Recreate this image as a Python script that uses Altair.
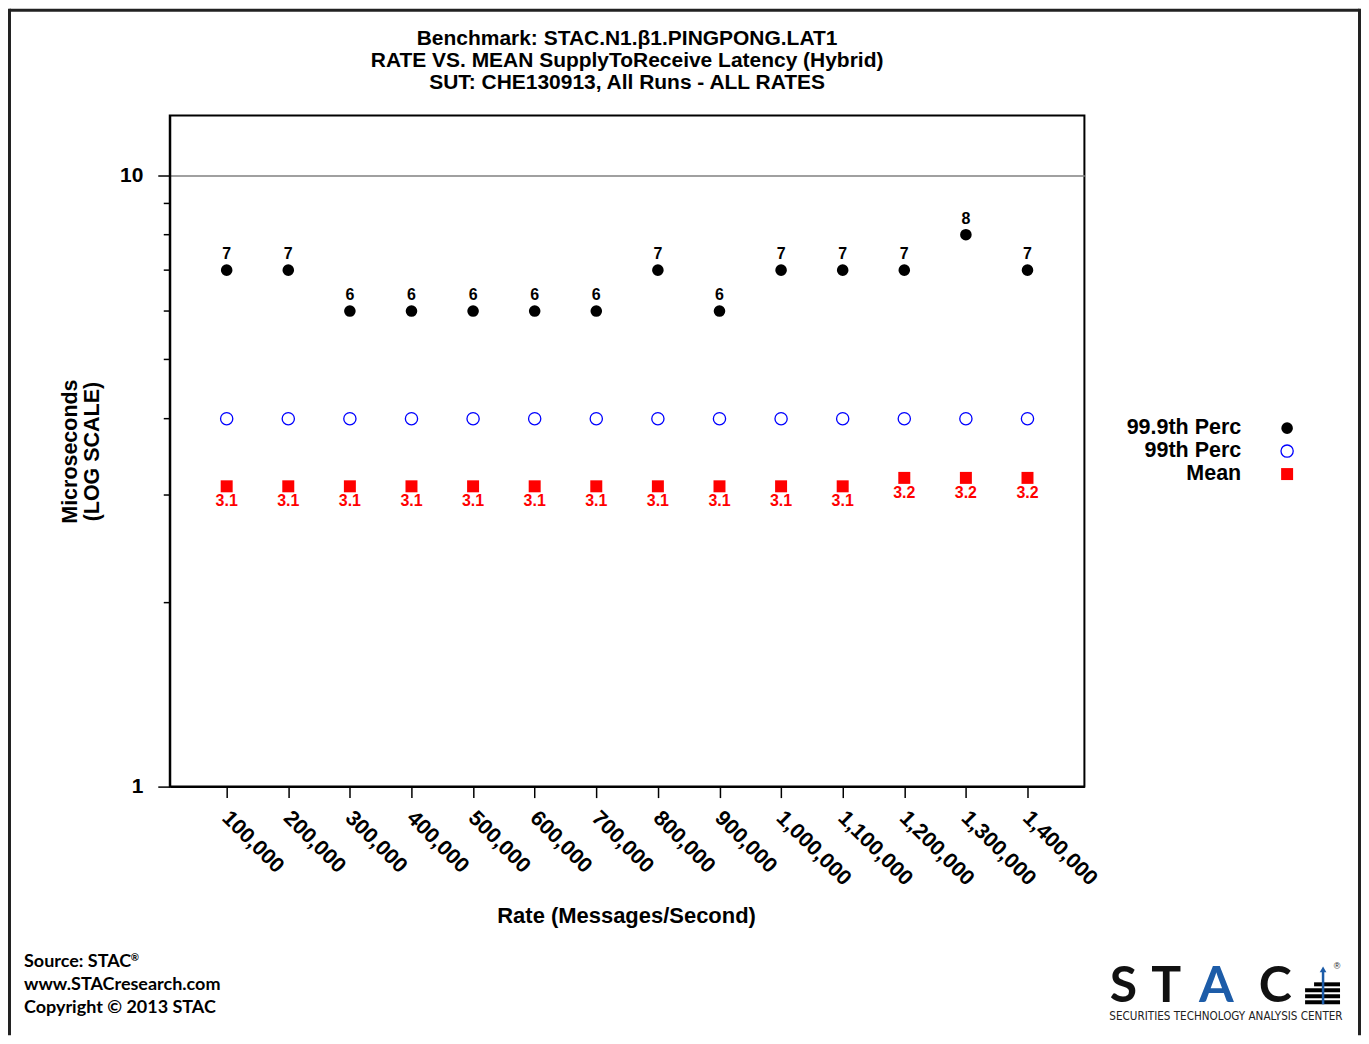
import altair as alt
import pandas as pd

# ---------------- data ----------------
rates = [100000, 200000, 300000, 400000, 500000, 600000, 700000,
         800000, 900000, 1000000, 1100000, 1200000, 1300000, 1400000]
p999 = [7, 7, 6, 6, 6, 6, 6, 7, 6, 7, 7, 7, 8, 7]
p99 = [4, 4, 4, 4, 4, 4, 4, 4, 4, 4, 4, 4, 4, 4]
mean = [3.1, 3.1, 3.1, 3.1, 3.1, 3.1, 3.1, 3.1, 3.1, 3.1, 3.1, 3.2, 3.2, 3.2]
y_major_ticks = [1, 10]
y_minor_ticks = [2, 3, 4, 5, 6, 7, 8, 9]
title_lines = ["Benchmark: STAC.N1.\u03b21.PINGPONG.LAT1",
               "RATE VS. MEAN SupplyToReceive Latency (Hybrid)",
               "SUT: CHE130913, All Runs - ALL RATES"]
legend_labels = ["99.9th Perc", "99th Perc", "Mean"]
footer_lines = ["Source: STAC", "www.STACresearch.com", "Copyright \u00a9 2013 STAC"]
logo_letters = ["S", "T", "A", "C"]
logo_sub = "SECURITIES TECHNOLOGY ANALYSIS CENTER"

W, H = 916, 672
PAD = {"left": 162, "top": 107, "right": 277, "bottom": 249}
FONT = "Liberation Sans"

df = pd.DataFrame({"rate": rates, "p999": p999, "p99": p99, "mean": mean})
one = pd.DataFrame({"a": [0]})

xscale = alt.Scale(domain=[7600, 1492400])
yscale = alt.Scale(type="log", domain=[1, 12.53])

x_axis = alt.Axis(values=rates, format=",d", labelAngle=45, labelAlign="left",
                  labelBaseline="middle", tickSize=11, labelPadding=17,
                  labelFontSize=21.5, labelFontWeight="bold", labelFont=FONT,
                  labelColor="black", labelFlush=False, labelOverlap=False,
                  labelOffset=-2, grid=False,
                  title="Rate (Messages/Second)", titleFont=FONT, titleFontSize=22,
                  titleFontWeight="bold", titleColor="black",
                  titleX=W / 2 - 1, titleY=129, titleAlign="center", titleBaseline="middle",
                  domainColor="black", domainWidth=2, tickColor="black", tickWidth=1.5)
y_axis = alt.Axis(values=y_major_ticks, format="d", tickSize=12, labelPadding=15,
                  labelFontSize=21, labelFontWeight="bold", labelFont=FONT,
                  labelColor="black", labelBaseline="middle",
                  grid=True, gridColor="#808080", gridWidth=1.5,
                  title=["Microseconds", "(LOG SCALE)"], titleFont=FONT,
                  titleFontSize=21.5, titleFontWeight="bold", titleColor="black",
                  titleX=-93, titleY=H / 2, titleAlign="center",
                  titleBaseline="alphabetic", titleLineHeight=22, titleAngle=270,
                  domainColor="black", domainWidth=2, tickColor="black", tickWidth=1.5)

X = alt.X("rate:Q", scale=xscale, axis=x_axis)


def Y(field):
    return alt.Y(field, type="quantitative", scale=yscale, axis=y_axis)


base = alt.Chart(df)

l_p999 = base.mark_circle(size=135, color="black", opacity=1).encode(x=X, y=Y("p999"))
l_p99 = base.mark_point(shape="circle", size=150, color="blue", filled=False,
                        strokeWidth=1.3, opacity=1).encode(x=X, y=Y("p99"))
l_mean = base.mark_square(size=144, color="red", opacity=1).encode(x=X, y=Y("mean"))
t_p999 = base.mark_text(dy=-16, fontSize=16, fontWeight="bold", font=FONT,
                        color="black").encode(
    x=X, y=Y("p999"), text=alt.Text("p999:Q", format="d"))
t_mean = base.mark_text(dy=15, fontSize=16, fontWeight="bold", font=FONT,
                        color="red").encode(
    x=X, y=Y("mean"), text=alt.Text("mean:Q", format=".1f"))
minor = alt.Chart(pd.DataFrame({"v": y_minor_ticks})).mark_rule(
    color="black", strokeWidth=1.5).encode(
    y=Y("v"), x=alt.value(-6), x2=alt.value(0))


def txt(text, x, y, size, color="black", align="center", baseline="middle",
        weight="bold", font=FONT):
    return alt.Chart(one).mark_text(text=text, align=align, baseline=baseline,
                                    fontSize=size, fontWeight=weight, font=font,
                                    color=color).encode(x=alt.value(x), y=alt.value(y))


def rule(x1, y1, x2, y2, color="black", w=1.0):
    return alt.Chart(one).mark_rule(color=color, strokeWidth=w).encode(
        x=alt.value(x1), y=alt.value(y1), x2=alt.value(x2), y2=alt.value(y2))


def rect(x1, y1, x2, y2, color="black"):
    return alt.Chart(one).mark_rect(color=color).encode(
        x=alt.value(x1), y=alt.value(y1), x2=alt.value(x2), y2=alt.value(y2))


def sym(x, y, **kw):
    return alt.Chart(one).mark_point(opacity=1, **kw).encode(
        x=alt.value(x), y=alt.value(y))


OX, OY = 170, 115  # page position of plot origin
ann = []
# title
for i, line in enumerate(title_lines):
    ann.append(txt(line, W / 2, 38 + 22 * i - OY, 21))
# legend
leg_y = [428, 451, 474]
for lab, yy in zip(legend_labels, leg_y):
    ann.append(txt(lab, 1243 - OX, yy - OY, 21.5, align="right"))
ann.append(sym(1289 - OX, leg_y[0] - OY, shape="circle", filled=True, color="black", size=135))
ann.append(sym(1289 - OX, leg_y[1] - OY, shape="circle", filled=False, color="blue",
               size=150, strokeWidth=1.3))
ann.append(sym(1289 - OX, leg_y[2] - OY, shape="square", filled=True, color="red", size=144))
# footer
for i, line in enumerate(footer_lines):
    ann.append(txt(line, 24 - OX, 963 + 23 * i - OY, 18, align="left", font="Lato"))
ann.append(txt("\u00ae", 131 - OX, 959 - OY, 10, align="left", font="Lato"))
# logo
BLUE = "#1d5ca8"
for ch, cx in zip(logo_letters, [1125, 1168, 1218, 1277]):
    ann.append(txt(ch, cx - OX, 1003 - OY, 50, color=BLUE if ch == "A" else "#111111",
                   baseline="alphabetic", font="Lato"))
ann.append(txt(logo_sub, 1111 - OX, 1018 - OY, 11.6, color="#222222", align="left",
               weight="normal",
               font="'Liberation Sans Narrow', 'DejaVu Sans Condensed', 'Liberation Sans'"))
for (bx1, by1, bx2, by2) in [(1316, 983, 1342, 987), (1307, 989, 1342, 993),
                             (1307, 995, 1342, 999), (1307, 1001, 1342, 1005)]:
    ann.append(rect(bx1 - OX, by1 - OY, bx2 - OX, by2 - OY))
ann.append(rule(1325 - OX, 972 - OY, 1325 - OX, 1005 - OY, color=BLUE, w=2.5))
ann.append(sym(1325 - OX, 970 - OY, shape="triangle-up", filled=True, color=BLUE, size=45))
ann.append(txt("\u00ae", 1339 - OX, 967 - OY, 9, color="#222222", weight="normal"))
# outer frame (top, left, right)
TOPF, BOTF = -PAD["top"], H + PAD["bottom"]
LEFTF, RIGHTF = -PAD["left"], W + PAD["right"]
ann.append(rule(LEFTF + 1.5, TOPF + 1.5, RIGHTF - 1.5, TOPF + 1.5, color="#222222", w=3))
ann.append(rule(LEFTF + 1.5, TOPF, LEFTF + 1.5, BOTF, color="#222222", w=3))
ann.append(rule(RIGHTF - 1.5, TOPF, RIGHTF - 1.5, BOTF, color="#222222", w=3))

chart = alt.layer(l_p999, l_p99, l_mean, t_p999, t_mean, minor, *ann).properties(
    width=W, height=H,
    autosize=alt.AutoSizeParams(type="none"),
    padding=PAD,
    background="white",
).configure_view(stroke="black", strokeWidth=2)

chart.save("out.html", embed_options={"renderer": "svg", "actions": False})
